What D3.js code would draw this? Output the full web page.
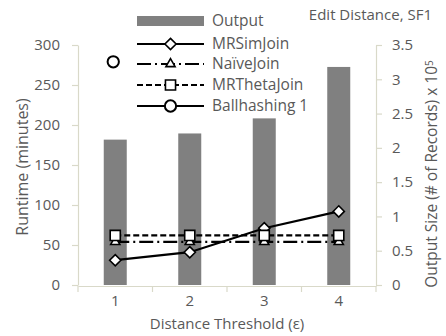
<!DOCTYPE html>
<html>
<head>
<meta charset="utf-8">
<script src="https://cdn.jsdelivr.net/npm/d3@7"></script>
<style>
  html, body { margin: 0; padding: 0; background: #fff; }
  svg text { font-family: "Open Sans", "Liberation Sans", sans-serif; fill: #595959; }
</style>
</head>
<body>
<svg id="chart" width="446" height="336"></svg>
<script>
// Distance thresholds on the x axis
const thresholds = ["1", "2", "3", "4"];
// Output size, in units of 10^5 records (right axis)
const outputSize = [2.12, 2.21, 2.43, 3.18];
// Runtimes in minutes (left axis)
const mrSimJoin = [31, 41, 71, 92];
const naiveJoin = [54, 54, 54, 54];
const mrThetaJoin = [62, 62, 62, 62];
const ballhashing1 = [279, null, null, null];

const leftTicks = [0, 50, 100, 150, 200, 250, 300];
const rightTicks = [0, 0.5, 1, 1.5, 2, 2.5, 3, 3.5];

const svg = d3.select("#chart");
const m = { left: 78, right: 376, top: 45, bottom: 285 };
const axisColor = "#d9d9c9";
const tickFont = "15px";

const x = d3.scaleBand().domain(thresholds).range([m.left, m.right]);
const yL = d3.scaleLinear().domain([0, 300]).range([m.bottom, m.top]);
const yR = d3.scaleLinear().domain([0, 3.5]).range([m.bottom, m.top]);
const cx = d => x(d) + x.bandwidth() / 2;

// Bars: output size
const barW = 23;
svg.append("g").selectAll("rect").data(outputSize).join("rect")
  .attr("x", (d, i) => cx(thresholds[i]) - barW / 2)
  .attr("y", d => yR(d))
  .attr("width", barW)
  .attr("height", d => yR(0) - yR(d))
  .attr("fill", "#808080");

// Axes
function styleAxis(g) {
  g.select(".domain").attr("stroke", axisColor).attr("stroke-width", 1.2);
  g.selectAll(".tick line").attr("stroke", axisColor).attr("stroke-width", 1.2);
  g.selectAll(".tick text").attr("fill", "#595959").style("font-size", tickFont);
}
svg.append("g").attr("transform", `translate(${m.left},0)`)
  .call(d3.axisLeft(yL).tickValues(leftTicks).tickSize(6).tickPadding(12).tickSizeOuter(0))
  .call(styleAxis);
svg.append("g").attr("transform", `translate(${m.right},0)`)
  .call(d3.axisRight(yR).tickValues(rightTicks).tickFormat(d3.format("")).tickSize(6).tickPadding(10).tickSizeOuter(0))
  .call(styleAxis);
const xAxis = svg.append("g").attr("transform", `translate(0,${m.bottom + 1})`)
  .call(d3.axisBottom(x).tickSize(0).tickPadding(9))
  .call(styleAxis);
// tick marks at category boundaries
xAxis.selectAll(".bound").data(d3.range(thresholds.length + 1)).join("line")
  .attr("class", "bound")
  .attr("x1", i => m.left + i * x.step()).attr("x2", i => m.left + i * x.step())
  .attr("y1", 0).attr("y2", 6)
  .attr("stroke", axisColor).attr("stroke-width", 1.2);

// Marker shapes
const symbols = {
  diamond: d3.symbol().type(d3.symbolDiamond2).size(80),
  triangle: d3.symbol().type(d3.symbolTriangle2).size(60),
  square: d3.symbol().type(d3.symbolSquare2).size(130),
  circle: d3.symbol().type(d3.symbolCircle).size(100)
};

const series = [
  { name: "MRSimJoin", values: mrSimJoin, dash: null, sym: "diamond" },
  { name: "NaïveJoin", values: naiveJoin, dash: "14,4,2,4", sym: "triangle" },
  { name: "MRThetaJoin", values: mrThetaJoin, dash: "6,3", sym: "square" },
  { name: "Ballhashing 1", values: ballhashing1, dash: null, sym: "circle" }
];

const line = d3.line()
  .defined(d => d.v != null)
  .x(d => cx(d.k)).y(d => yL(d.v));

series.forEach(s => {
  const pts = s.values.map((v, i) => ({ k: thresholds[i], v }));
  svg.append("path").datum(pts)
    .attr("d", line)
    .attr("fill", "none").attr("stroke", "#000").attr("stroke-width", 2.2)
    .attr("stroke-dasharray", s.dash);
  svg.append("g").selectAll("path").data(pts.filter(d => d.v != null)).join("path")
    .attr("d", symbols[s.sym])
    .attr("transform", d => `translate(${cx(d.k) - (s.sym === "circle" ? 2 : 0)},${yL(d.v)})`)
    .attr("fill", "#fff").attr("stroke", "#000").attr("stroke-width", s.sym === "circle" ? 2 : 1.6);
});

// Legend
const lg = svg.append("g");
const lx0 = 137, lx1 = 204, tx = 212;
const rows = [21, 44, 64, 85, 106];
const legendFont = "15.5px";
lg.append("rect").attr("x", lx0).attr("y", rows[0] - 5).attr("width", lx1 - lx0).attr("height", 10).attr("fill", "#808080");
lg.append("text").attr("x", tx).attr("y", rows[0]).attr("dy", "0.35em").style("font-size", legendFont).text("Output");
series.forEach((s, i) => {
  const y = rows[i + 1];
  lg.append("line").attr("x1", lx0).attr("x2", lx1).attr("y1", y).attr("y2", y)
    .attr("stroke", "#000").attr("stroke-width", 2.2).attr("stroke-dasharray", s.dash);
  lg.append("path").attr("d", symbols[s.sym])
    .attr("transform", `translate(${(lx0 + lx1) / 2},${y})`)
    .attr("fill", "#fff").attr("stroke", "#000").attr("stroke-width", s.sym === "circle" ? 2 : 1.6);
  lg.append("text").attr("x", tx).attr("y", y).attr("dy", "0.35em").style("font-size", legendFont).text(s.name);
});

// Title and axis titles
svg.append("text").attr("x", 432).attr("y", 15).attr("dy", "0.35em")
  .attr("text-anchor", "end").style("font-size", "15px").text("Edit Distance, SF1");
svg.append("text").attr("x", 227).attr("y", 324).attr("dy", "0.35em")
  .attr("text-anchor", "middle").style("font-size", "15px").text("Distance Threshold (ε)");
svg.append("text").attr("transform", "translate(22,167) rotate(-90)").attr("dy", "0.35em")
  .attr("text-anchor", "middle").style("font-size", "16px").text("Runtime (minutes)");
const rt = svg.append("text").attr("transform", "translate(432,174) rotate(-90)").attr("dy", "0.35em")
  .attr("text-anchor", "middle").style("font-size", "15.5px");
rt.append("tspan").text("Output Size (# of Records) x 10");
rt.append("tspan").attr("dy", "-0.45em").style("font-size", "10px").text("5");
</script>
</body>
</html>
